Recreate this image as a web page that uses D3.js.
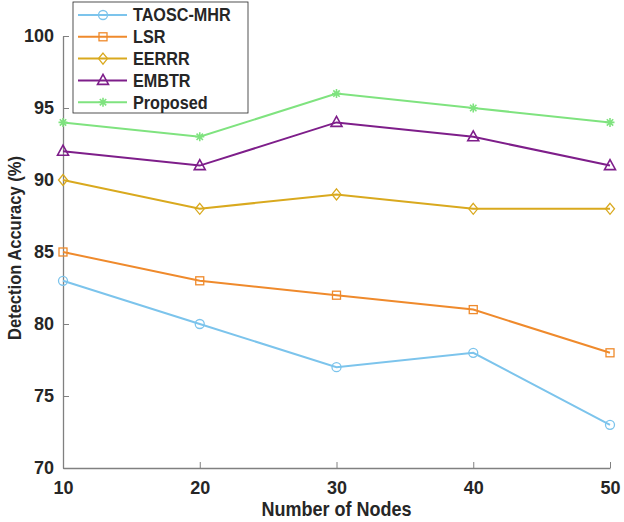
<!DOCTYPE html>
<html>
<head>
<meta charset="utf-8">
<script src="https://cdn.jsdelivr.net/npm/d3@7"></script>
<style>
  body { margin: 0; background: #fff; }
  svg text { font-family: "Liberation Sans", Arial, sans-serif; font-weight: bold; }
</style>
</head>
<body>
<div id="chart"></div>
<script>
// data
const nodes = [10, 20, 30, 40, 50];
const xTicks = [10, 20, 30, 40, 50];
const yTicks = [70, 75, 80, 85, 90, 95, 100];
const seriesNames = ["TAOSC-MHR", "LSR", "EERRR", "EMBTR", "Proposed"];
const taoscMhr = [83, 80, 77, 78, 73];
const lsr = [85, 83, 82, 81, 78];
const eerrr = [90, 88, 89, 88, 88];
const embtr = [92, 91, 94, 93, 91];
const proposed = [94, 93, 96, 95, 94];

const seriesValues = [taoscMhr, lsr, eerrr, embtr, proposed];
const colors = ["#7cc4ec", "#ef8a2c", "#d9a91e", "#7e1e8a", "#7fe37f"];
const markers = ["circle", "square", "diamond", "triangle", "star"];

const width = 624, height = 522;
const margin = { left: 63, right: 14, top: 36, bottom: 54 };

const svg = d3.select("#chart").append("svg")
  .attr("width", width).attr("height", height);

const x = d3.scaleLinear().domain([10, 50]).range([margin.left, width - margin.right]);
const y = d3.scaleLinear().domain([70, 100]).range([height - margin.bottom, margin.top]);

// axes
const xAxis = svg.append("g")
  .attr("transform", `translate(0,${height - margin.bottom})`)
  .call(d3.axisBottom(x).tickValues(xTicks).tickSizeInner(-6).tickSizeOuter(0).tickPadding(10));
const yAxis = svg.append("g")
  .attr("transform", `translate(${margin.left},0)`)
  .call(d3.axisLeft(y).tickValues(yTicks).tickSizeInner(-6).tickSizeOuter(0).tickPadding(9));

[xAxis, yAxis].forEach(a => {
  a.select(".domain").attr("stroke", "#808080").attr("stroke-width", 1.3);
  a.selectAll(".tick line").attr("stroke", "#808080");
  a.selectAll(".tick text").attr("font-size", 18).attr("fill", "#262626");
});
xAxis.selectAll(".tick text").attr("dy", "0.9em");

// axis titles (the originals are a bit condensed)
svg.append("g")
  .attr("transform", `translate(${(margin.left + width - margin.right) / 2},516) scale(0.9,1)`)
  .append("text")
  .attr("text-anchor", "middle")
  .attr("font-size", 20)
  .attr("fill", "#262626")
  .text("Number of Nodes");

svg.append("g")
  .attr("transform", `translate(21,${(margin.top + height - margin.bottom) / 2 - 4}) rotate(-90) scale(0.87,1)`)
  .append("text")
  .attr("text-anchor", "middle")
  .attr("font-size", 19)
  .attr("fill", "#262626")
  .text("Detection Accuracy (%)");

// marker shapes
function drawMarker(g, type, color) {
  if (type === "circle") {
    g.append("circle").attr("r", 4.5).attr("fill", "none").attr("stroke", color).attr("stroke-width", 1.3);
  } else if (type === "square") {
    g.append("rect").attr("x", -4).attr("y", -4).attr("width", 8).attr("height", 8)
      .attr("fill", "none").attr("stroke", color).attr("stroke-width", 1.3);
  } else if (type === "diamond") {
    g.append("path").attr("d", "M0,-5.5L4.5,0L0,5.5L-4.5,0Z")
      .attr("fill", "none").attr("stroke", color).attr("stroke-width", 1.3);
  } else if (type === "triangle") {
    g.append("path").attr("d", "M0,-6L5.5,4L-5.5,4Z")
      .attr("fill", "none").attr("stroke", color).attr("stroke-width", 1.6);
  } else {
    g.append("path").attr("d", "M0,-4.5V4.5M-4.5,0H4.5M-3.2,-3.2L3.2,3.2M-3.2,3.2L3.2,-3.2")
      .attr("fill", "none").attr("stroke", color).attr("stroke-width", 1.6);
  }
}

const line = d3.line().x((d, i) => x(nodes[i])).y(d => y(d));

seriesValues.forEach((vals, s) => {
  svg.append("path")
    .datum(vals)
    .attr("d", line)
    .attr("fill", "none")
    .attr("stroke", colors[s])
    .attr("stroke-width", 2);
  vals.forEach((v, i) => {
    const g = svg.append("g").attr("transform", `translate(${x(nodes[i])},${y(v)})`);
    drawMarker(g, markers[s], colors[s]);
  });
});

// legend
const legend = svg.append("g").attr("transform", "translate(73,2)");
legend.append("rect")
  .attr("width", 175).attr("height", 111)
  .attr("fill", "#fff").attr("stroke", "#262626").attr("stroke-width", 0.8);
seriesNames.forEach((name, s) => {
  const cy = 13 + s * 21.8;
  legend.append("line")
    .attr("x1", 5).attr("x2", 54).attr("y1", cy).attr("y2", cy)
    .attr("stroke", colors[s]).attr("stroke-width", 2);
  const g = legend.append("g").attr("transform", `translate(30,${cy})`);
  drawMarker(g, markers[s], colors[s]);
  legend.append("g")
    .attr("transform", `translate(60,${cy}) scale(0.9,1)`)
    .append("text")
    .attr("dy", "0.36em")
    .attr("font-size", 18).attr("fill", "#262626")
    .text(name);
});
</script>
</body>
</html>
